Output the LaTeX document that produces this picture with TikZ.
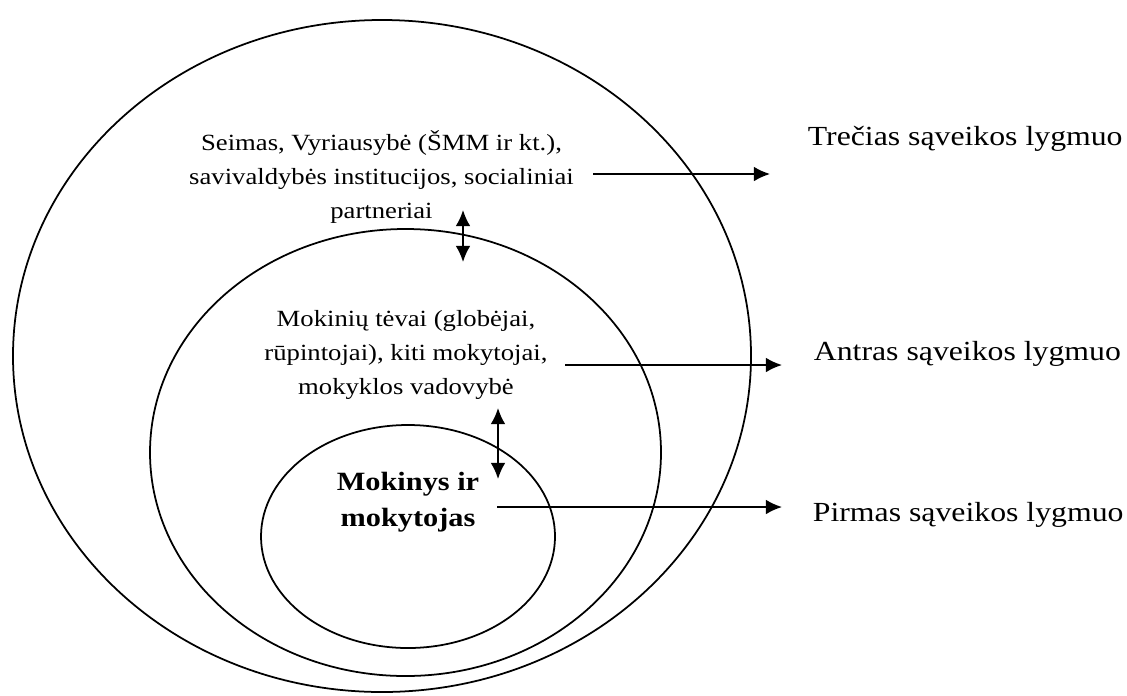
\documentclass[tikz,border=0pt]{standalone}
\usepackage{fontspec}
\setmainfont{Liberation Serif}[FakeStretch=1.15]
\usetikzlibrary{arrows.meta}

\tikzset{
  ringtext/.style={align=center, inner sep=0pt, font=\fontsize{6.6}{9.8}\selectfont},
  coretext/.style={align=center, inner sep=0pt, font=\bfseries\fontsize{7.5}{10.2}\selectfont},
  leveltext/.style={anchor=base west, inner sep=0pt, font=\fontsize{7.86}{9}\selectfont},
}

\begin{document}
\begin{tikzpicture}[>={Latex[length=4.6pt,width=4.2pt]}, line width=0.5pt]

  \useasboundingbox (0,0) rectangle (11.27,6.95);

  % Rings
  \draw (3.82,3.39) ellipse (3.69 and 3.36);
  \draw (4.055,2.425) ellipse (2.555 and 2.235);
  \draw (4.08,1.585) ellipse (1.47 and 1.115);

  % Ring texts
  \node[ringtext] (seimas) at (3.815,5.18) {Seimas, Vyriausybė (ŠMM ir kt.),\\savivaldybės institucijos, socialiniai\\partneriai};
  \node[ringtext] (tevai) at (4.06,3.40) {Mokinių tėvai (globėjai,\\rūpintojai), kiti mokytojai,\\mokyklos vadovybė};
  \node[coretext] (mokinys) at (4.08,1.93) {Mokinys ir\\mokytojas};

  % Level labels
  \node[leveltext] (lvl3) at (8.07,5.50) {Trečias sąveikos lygmuo};
  \node[leveltext] (lvl2) at (8.13,3.35) {Antras sąveikos lygmuo};
  \node[leveltext] (lvl1) at (8.12,1.74) {Pirmas sąveikos lygmuo};

  % Arrow ends
  \coordinate (a3s) at (5.93,5.21);
  \coordinate (a3e) at (7.70,5.21);
  \coordinate (a2s) at (5.65,3.30);
  \coordinate (a2e) at (7.82,3.30);
  \coordinate (a1s) at (4.97,1.88);
  \coordinate (a1e) at (7.82,1.88);
  \coordinate (b1t) at (4.63,4.85);
  \coordinate (b1b) at (4.63,4.33);
  \coordinate (b2t) at (4.98,2.87);
  \coordinate (b2b) at (4.98,2.16);

  % Arrows
  \draw[->] (a3s) -- (a3e);
  \draw[->] (a2s) -- (a2e);
  \draw[->] (a1s) -- (a1e);
  \draw[<->] (b1t) -- (b1b);
  \draw[<->] (b2t) -- (b2b);

\end{tikzpicture}
\end{document}
